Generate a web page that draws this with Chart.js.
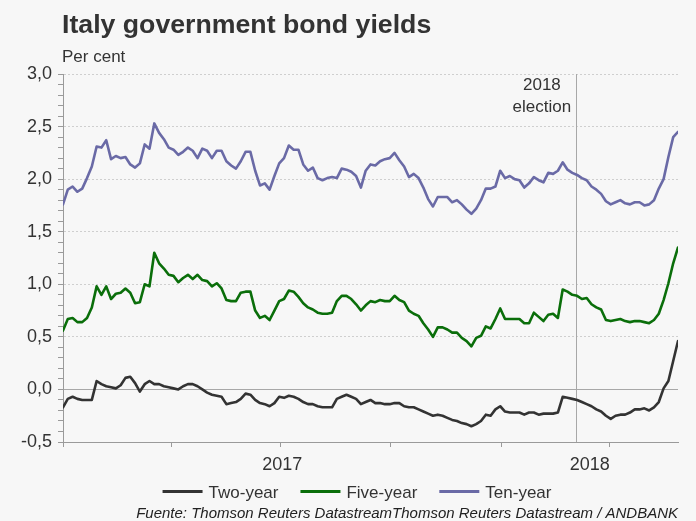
<!DOCTYPE html>
<html>
<head>
<meta charset="utf-8">
<script src="https://cdn.jsdelivr.net/npm/chart.js@4.4.1/dist/chart.umd.min.js"></script>
<style>
  html, body { margin: 0; padding: 0; background: #f7f7f7; }
  #wrap { width: 696px; height: 521px; }
</style>
</head>
<body>
<div id="wrap"><canvas id="chartYields" width="696" height="521"></canvas></div>
<script>
// samples every 4 days from 1 Jan 2017 (day 0)
const STEP_DAYS = 4;
const AXIS_DAYS = 512;
// tick marks at 1 Jan, 1 Apr, 1 Jul, 1 Oct 2017, 1 Jan, 1 Apr 2018
const quarterTicks = [0, 90, 181, 273, 365, 455];
const yearLabels = ["2017", "2018"];
const yearStarts = [0, 365, AXIS_DAYS];
const electionDay = 427; // 4 Mar 2018

const tenYear = [
  1.76, 1.90, 1.93, 1.88, 1.91, 2.01, 2.12, 2.31, 2.30, 2.37,
  2.19, 2.22, 2.20, 2.21, 2.14, 2.11, 2.15, 2.33, 2.29, 2.53,
  2.44, 2.38, 2.30, 2.28, 2.23, 2.26, 2.30, 2.27, 2.20, 2.29,
  2.27, 2.20, 2.27, 2.27, 2.17, 2.13, 2.10, 2.17, 2.26, 2.26,
  2.08, 1.94, 1.96, 1.90, 2.03, 2.15, 2.20, 2.32, 2.28, 2.28,
  2.14, 2.08, 2.11, 2.01, 1.99, 2.01, 2.02, 2.01, 2.10, 2.09,
  2.07, 2.03, 1.92, 2.08, 2.14, 2.13, 2.17, 2.19, 2.20, 2.25,
  2.18, 2.12, 2.02, 2.05, 2.01, 1.92, 1.81, 1.74, 1.83, 1.83,
  1.83, 1.78, 1.80, 1.76, 1.71, 1.67, 1.72, 1.80, 1.91, 1.91,
  1.93, 2.08, 2.01, 2.03, 2.00, 1.99, 1.92, 1.96, 2.02, 1.99,
  1.97, 2.06, 2.05, 2.08, 2.16, 2.09, 2.06, 2.04, 2.01, 1.99,
  1.93, 1.90, 1.86, 1.79, 1.76, 1.78, 1.80, 1.77, 1.76, 1.78,
  1.78, 1.75, 1.76, 1.80, 1.91, 2.00, 2.21, 2.40, 2.45
];

const fiveYear = [
  0.56, 0.67, 0.68, 0.64, 0.64, 0.68, 0.78, 0.98, 0.90, 0.98,
  0.86, 0.91, 0.92, 0.96, 0.92, 0.82, 0.83, 1.00, 0.98, 1.30,
  1.20, 1.15, 1.09, 1.08, 1.02, 1.06, 1.09, 1.05, 1.09, 1.04,
  1.03, 0.98, 1.01, 0.96, 0.85, 0.84, 0.84, 0.92, 0.93, 0.93,
  0.75, 0.68, 0.70, 0.66, 0.75, 0.84, 0.86, 0.94, 0.93, 0.88,
  0.82, 0.78, 0.76, 0.73, 0.72, 0.72, 0.73, 0.84, 0.89, 0.89,
  0.86, 0.81, 0.75, 0.80, 0.84, 0.83, 0.85, 0.84, 0.84, 0.89,
  0.85, 0.83, 0.75, 0.72, 0.70, 0.63, 0.57, 0.50, 0.59, 0.59,
  0.57, 0.54, 0.54, 0.49, 0.46, 0.41, 0.49, 0.51, 0.60, 0.58,
  0.67, 0.77, 0.67, 0.67, 0.67, 0.67, 0.63, 0.63, 0.73, 0.69,
  0.65, 0.71, 0.72, 0.68, 0.95, 0.93, 0.90, 0.89, 0.86, 0.87,
  0.81, 0.78, 0.76, 0.66, 0.65, 0.66, 0.67, 0.65, 0.64, 0.65,
  0.65, 0.64, 0.63, 0.66, 0.72, 0.85, 1.01, 1.20, 1.35
];

const twoYear = [
  -0.17, -0.09, -0.07, -0.09, -0.10, -0.10, -0.10, 0.08, 0.05, 0.03,
  0.02, 0.01, 0.04, 0.11, 0.12, 0.06, -0.02, 0.05, 0.08, 0.05,
  0.05, 0.03, 0.02, 0.01, 0.00, 0.03, 0.05, 0.05, 0.03, 0.00,
  -0.03, -0.05, -0.06, -0.07, -0.14, -0.13, -0.12, -0.09, -0.04, -0.05,
  -0.10, -0.13, -0.14, -0.16, -0.13, -0.07, -0.08, -0.06, -0.07, -0.09,
  -0.12, -0.14, -0.14, -0.16, -0.17, -0.17, -0.17, -0.09, -0.07, -0.05,
  -0.07, -0.09, -0.14, -0.12, -0.10, -0.13, -0.13, -0.14, -0.14, -0.13,
  -0.13, -0.16, -0.17, -0.17, -0.19, -0.21, -0.23, -0.25, -0.24, -0.25,
  -0.27, -0.29, -0.30, -0.32, -0.33, -0.35, -0.33, -0.30, -0.24, -0.25,
  -0.19, -0.16, -0.21, -0.22, -0.22, -0.22, -0.24, -0.22, -0.22, -0.24,
  -0.23, -0.23, -0.23, -0.22, -0.07, -0.08, -0.09, -0.10, -0.12, -0.14,
  -0.16, -0.19, -0.21, -0.25, -0.28, -0.25, -0.24, -0.24, -0.22, -0.19,
  -0.19, -0.18, -0.20, -0.17, -0.12, 0.01, 0.08, 0.27, 0.46
];

const FONT = '"Liberation Sans", Arial, sans-serif';
const TEXT = "#333333";
const COLORS = { two: "#333333", five: "#0a6e0a", ten: "#6a6aa6" };

const toPoints = arr => arr.map((v, i) => ({ x: i * STEP_DAYS, y: v }));
const isMajor = v => Math.round(v * 10) % 5 === 0;

const decor = {
  id: "decor",
  beforeDatasetsDraw(chart) {
    const { ctx, chartArea, scales: { x } } = chart;
    const ex = Math.round(x.getPixelForValue(electionDay)) + 0.5;
    ctx.save();
    ctx.strokeStyle = "#a8a8a8";
    ctx.lineWidth = 1;
    ctx.beginPath();
    ctx.moveTo(ex, chartArea.top);
    ctx.lineTo(ex, chartArea.bottom);
    ctx.stroke();
    ctx.restore();
  },
  afterDraw(chart) {
    const { ctx, chartArea, scales: { x } } = chart;
    ctx.save();
    ctx.fillStyle = TEXT;

    // title + unit
    ctx.textAlign = "left";
    ctx.textBaseline = "alphabetic";
    ctx.font = "bold 26.7px " + FONT;
    ctx.fillText("Italy government bond yields", 62, 33);
    ctx.font = "17px " + FONT;
    ctx.fillText("Per cent", 62, 62);

    // election note
    const ex = x.getPixelForValue(electionDay);
    ctx.textAlign = "center";
    ctx.fillText("2018", ex - 34, chartArea.top + 16);
    ctx.fillText("election", ex - 34, chartArea.top + 38);

    // year labels, centred on each year's span
    ctx.font = "18px " + FONT;
    yearLabels.forEach((lab, i) => {
      const mid = (x.getPixelForValue(yearStarts[i]) + x.getPixelForValue(yearStarts[i + 1])) / 2;
      ctx.fillText(lab, mid, 470);
    });

    // legend
    ctx.font = "17px " + FONT;
    const sw = 40, gap = 6, itemGap = 22;
    const items = chart.data.datasets.map(d => ({ label: d.label, color: d.borderColor, w: ctx.measureText(d.label).width }));
    const total = items.reduce((s, it) => s + sw + gap + it.w, 0) + itemGap * (items.length - 1);
    let lx = 357 - total / 2;
    ctx.textAlign = "left";
    items.forEach(it => {
      ctx.strokeStyle = it.color;
      ctx.lineWidth = 3;
      ctx.beginPath();
      ctx.moveTo(lx, 491.5);
      ctx.lineTo(lx + sw, 491.5);
      ctx.stroke();
      ctx.fillStyle = TEXT;
      ctx.fillText(it.label, lx + sw + gap, 498);
      lx += sw + gap + it.w + itemGap;
    });

    // source
    ctx.font = "italic 15px " + FONT;
    ctx.textAlign = "right";
    ctx.fillStyle = "#222222";
    ctx.fillText("Fuente: Thomson Reuters DatastreamThomson Reuters Datastream / ANDBANK", 678, 518);
    ctx.restore();
  }
};

const ctx = document.getElementById("chartYields").getContext("2d");

new Chart(ctx, {
  type: "line",
  data: {
    datasets: [
      { label: "Two-year", data: toPoints(twoYear), borderColor: COLORS.two },
      { label: "Five-year", data: toPoints(fiveYear), borderColor: COLORS.five },
      { label: "Ten-year", data: toPoints(tenYear), borderColor: COLORS.ten }
    ]
  },
  options: {
    responsive: false,
    animation: false,
    layout: { padding: { top: 74, right: 18, bottom: 79, left: 0 } },
    elements: {
      line: { borderWidth: 2.6, tension: 0, borderJoinStyle: "round", borderCapStyle: "round" },
      point: { radius: 0 }
    },
    plugins: {
      legend: { display: false },
      tooltip: { enabled: false }
    },
    scales: {
      x: {
        type: "linear",
        min: 0,
        max: AXIS_DAYS,
        afterBuildTicks: s => { s.ticks = quarterTicks.map(v => ({ value: v })); },
        afterFit: s => { s.height = 0; },
        ticks: { display: false },
        grid: { drawOnChartArea: false, tickLength: 5, tickColor: "#9a9a9a" },
        border: { color: "#9a9a9a", width: 1 }
      },
      y: {
        min: -0.5,
        max: 3.0,
        afterFit: s => { s.width = 63; },
        ticks: {
          stepSize: 0.1,
          autoSkip: false,
          padding: 6,
          color: TEXT,
          font: { family: FONT, size: 18 },
          callback: v => isMajor(v) ? (Math.round(v * 10) / 10).toFixed(1).replace(".", ",") : ""
        },
        grid: {
          color: c => {
            const v = c.tick.value;
            if (Math.abs(v) < 1e-9) return "#a8a8a8";
            return isMajor(v) ? "#cfcfcf" : "rgba(0,0,0,0)";
          },
          tickColor: "#9a9a9a",
          tickLength: 5
        },
        border: {
          color: "#9a9a9a",
          dash: c => (c.tick && Math.abs(c.tick.value) > 1e-9) ? [2, 2] : []
        }
      }
    }
  },
  plugins: [decor]
});
</script>
</body>
</html>
